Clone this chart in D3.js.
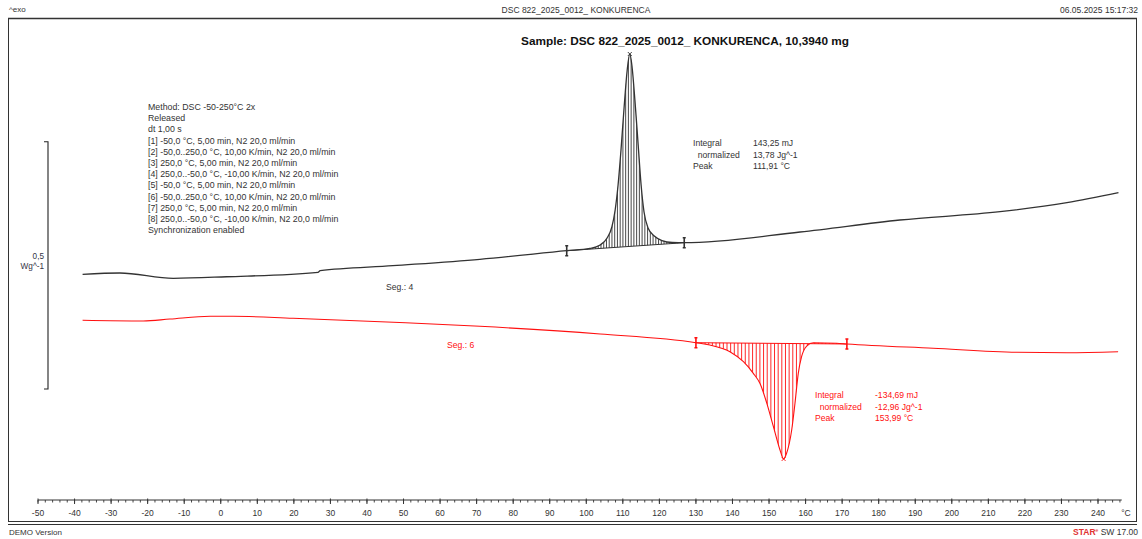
<!DOCTYPE html>
<html>
<head>
<meta charset="utf-8">
<script src="https://cdn.jsdelivr.net/npm/d3@7/dist/d3.min.js"></script>
<style>
  html, body { margin: 0; padding: 0; background: #fff; }
  svg { display: block; font-family: "Liberation Sans", Arial, sans-serif; }
</style>
</head>
<body>
<svg id="chart" width="1142" height="539"></svg>
<script>
// Segment 4 (cooling curve, black): temperature [°C] and heat flow [W/g, offset]
const seg4Temp = [-37.8, -27.6, -13.0, 1.6, 26.6, 27.2, 47.1, 70.9, 94.65, 101.0, 103.8, 105.7, 107.0, 107.9,
  108.7, 109.5, 110.3, 111.2, 111.91, 112.5, 113.3, 114.2, 115.0, 115.8, 116.9, 118.6, 120.7, 123.5, 126.8,
  158.5, 185.8, 213.2, 231.5, 245.6];
const seg4Flow = [0.2319, 0.2345, 0.2238, 0.2270, 0.2360, 0.2392, 0.2493, 0.2622, 0.2796, 0.2841, 0.2911, 0.3053,
  0.3275, 0.3619, 0.4125, 0.4832, 0.5641, 0.6450, 0.6773, 0.6531, 0.5843, 0.4933, 0.4125, 0.3579, 0.3255,
  0.3093, 0.3002, 0.2962, 0.2958, 0.3174, 0.3417, 0.3585, 0.3767, 0.3969];

// Segment 6 (second heating, red)
const seg6Temp = [-37.8, -21.2, -13.9, -2.9, 3.4, 19.8, 47.2, 70.9, 103.8, 130.0, 133.8, 139.3, 143.0, 145.7,
  147.5, 149.4, 151.2, 153.0, 153.99, 154.8, 156.2, 157.1, 158.0, 158.9, 160.3, 162.1, 168.5, 171.3,
  194.9, 217.8, 231.5, 245.5];
const seg6Flow = [0.1389, 0.1375, 0.1415, 0.1470, 0.1470, 0.1429, 0.1349, 0.1268, 0.1112, 0.0936, 0.0890,
  0.0754, 0.0552, 0.0317, 0.0115, -0.0289, -0.0762, -0.1233, -0.1415, -0.1300, -0.0829, -0.0289, 0.0317,
  0.0653, 0.0869, 0.0936, 0.0924, 0.0910, 0.0823, 0.0742, 0.0734, 0.0754];

// Integration limits [°C] and peak temperatures
const seg4Limits = [94.65, 126.8];
const seg6Limits = [130.0, 171.3];
const seg4Peak = 111.91;
const seg6Peak = 153.99;

// Axis ticks
const majorTicks = d3.range(-50, 241, 10);
const minorTicks = d3.range(-50, 247, 2);

// Texts
const methodLines = [
  "Method: DSC -50-250°C 2x",
  "Released",
  "dt 1,00 s",
  "[1] -50,0 °C, 5,00 min, N2 20,0 ml/min",
  "[2] -50,0..250,0 °C, 10,00 K/min, N2 20,0 ml/min",
  "[3] 250,0 °C, 5,00 min, N2 20,0 ml/min",
  "[4] 250,0..-50,0 °C, -10,00 K/min, N2 20,0 ml/min",
  "[5] -50,0 °C, 5,00 min, N2 20,0 ml/min",
  "[6] -50,0..250,0 °C, 10,00 K/min, N2 20,0 ml/min",
  "[7] 250,0 °C, 5,00 min, N2 20,0 ml/min",
  "[8] 250,0..-50,0 °C, -10,00 K/min, N2 20,0 ml/min",
  "Synchronization enabled"
];
const resultNames = ["Integral", "  normalized", "Peak"];
const seg4Results = ["143,25 mJ", "13,78 Jg^-1", "111,91 °C"];
const seg6Results = ["-134,69 mJ", "-12,96 Jg^-1", "153,99 °C"];

const svg = d3.select("#chart");
const x = d3.scaleLinear().domain([-50, 240]).range([38, 1098]);
const y = d3.scaleLinear().domain([0, 0.5]).range([389, 141.7]);

const BLACK = "#333333";
const RED = "#ff1010";

// Frame and header
const g = svg.append("g");
g.append("text").attr("x", 9).attr("y", 12).attr("font-size", 8).attr("fill", "#333").text("^exo");
g.append("text").attr("x", 576).attr("y", 13).attr("font-size", 8.5).attr("text-anchor", "middle").attr("fill", "#333")
  .text("DSC 822_2025_0012_ KONKURENCA");
g.append("text").attr("x", 1138).attr("y", 13).attr("font-size", 8.5).attr("text-anchor", "end").attr("fill", "#333")
  .text("06.05.2025 15:17:32");
g.append("rect").attr("x", 8.5).attr("y", 18.5).attr("width", 1128).attr("height", 503)
  .attr("fill", "none").attr("stroke", "#333").attr("stroke-width", 1);
g.append("line").attr("x1", 8).attr("x2", 1137).attr("y1", 18.5).attr("y2", 18.5).attr("stroke", "#333").attr("stroke-width", 1.6);
g.append("line").attr("x1", 8).attr("x2", 1137).attr("y1", 524.5).attr("y2", 524.5).attr("stroke", "#333").attr("stroke-width", 1.2);

// Footer
g.append("text").attr("x", 9).attr("y", 535).attr("font-size", 8).attr("fill", "#333").text("DEMO Version");
const star = g.append("text").attr("x", 1138).attr("y", 535).attr("font-size", 8.5).attr("text-anchor", "end").attr("fill", "#333");
star.append("tspan").attr("fill", "#e03030").attr("font-weight", "bold").text("STAR");
star.append("tspan").attr("fill", "#e03030").attr("font-size", 5).attr("dy", -3).text("e");
star.append("tspan").attr("dy", 3).text(" SW 17.00");

// Sample title
g.append("text").attr("x", 685).attr("y", 45).attr("font-size", 11.8).attr("font-weight", "bold")
  .attr("text-anchor", "middle").attr("fill", "#111")
  .text("Sample: DSC 822_2025_0012_ KONKURENCA, 10,3940 mg");

// Method block
const mt = g.append("text").attr("font-size", 8.8).attr("fill", "#333");
methodLines.forEach((s, i) => {
  mt.append("tspan").attr("x", 148).attr("y", 110 + i * 11.2).text(s);
});

// X axis
const axisY = 500;
const ax = svg.append("g");
ax.append("line").attr("x1", x(-50)).attr("x2", x(246.5)).attr("y1", axisY).attr("y2", axisY)
  .attr("stroke", "#333").attr("stroke-width", 1);
ax.selectAll(".minor").data(minorTicks).join("line")
  .attr("x1", d => x(d)).attr("x2", d => x(d)).attr("y1", axisY).attr("y2", axisY + 2.5)
  .attr("stroke", "#333").attr("stroke-width", 0.9);
ax.selectAll(".major").data(majorTicks).join("line")
  .attr("x1", d => x(d)).attr("x2", d => x(d)).attr("y1", axisY - 1.5).attr("y2", axisY + 4)
  .attr("stroke", "#333").attr("stroke-width", 1);
ax.selectAll(".lbl").data(majorTicks).join("text")
  .attr("x", d => x(d)).attr("y", axisY + 16).attr("text-anchor", "middle")
  .attr("font-size", 8.5).attr("fill", "#333").text(d => d);
ax.append("text").attr("x", 1126).attr("y", axisY + 16).attr("text-anchor", "middle")
  .attr("font-size", 8.5).attr("fill", "#333").text("°C");

// Y scale bracket (0,5 W/g)
const yb = svg.append("g");
yb.append("path")
  .attr("d", `M44,${y(0.5)}H48V${y(0)}H44`)
  .attr("fill", "none").attr("stroke", "#222").attr("stroke-width", 1.1);
yb.append("text").attr("x", 44).attr("y", 259).attr("text-anchor", "end").attr("font-size", 8.2)
  .attr("fill", "#334").text("0,5");
yb.append("text").attr("x", 44).attr("y", 269).attr("text-anchor", "end").attr("font-size", 8.2)
  .attr("fill", "#334").text("Wg^-1");

// Curve drawing helpers
function interp(temps, flows, t) {
  const i = d3.bisectRight(temps, t);
  if (i <= 0) return flows[0];
  if (i >= temps.length) return flows[flows.length - 1];
  const t0 = temps[i - 1], t1 = temps[i];
  const f = (t - t0) / (t1 - t0);
  return flows[i - 1] + f * (flows[i] - flows[i - 1]);
}

function drawSegment(id, temps, flows, limits, peak, color, step, width) {
  const data = temps.map((t, i) => [t, flows[i]]);
  const line = d3.line().x(d => x(d[0])).y(d => y(d[1])).curve(d3.curveMonotoneX);
  const bStart = [limits[0], interp(temps, flows, limits[0])];
  const bEnd = [limits[1], interp(temps, flows, limits[1])];
  const base = t => bStart[1] + (t - bStart[0]) / (bEnd[0] - bStart[0]) * (bEnd[1] - bStart[1]);

  // Clip region between baseline and curve
  const inside = data.filter(d => d[0] >= limits[0] && d[0] <= limits[1]);
  const area = d3.area().x(d => x(d[0])).y0(d => y(base(d[0]))).y1(d => y(d[1])).curve(d3.curveMonotoneX);
  svg.append("clipPath").attr("id", id).append("path").attr("d", area(inside));

  // Vertical hatching of the integrated area
  const hatch = d3.range(limits[0] + step / 2, limits[1], step);
  svg.append("g").attr("clip-path", `url(#${id})`)
    .selectAll("line").data(hatch).join("line")
    .attr("x1", d => x(d)).attr("x2", d => x(d)).attr("y1", 30).attr("y2", 480)
    .attr("stroke", color).attr("stroke-width", 0.9);

  // Baseline
  svg.append("line").attr("x1", x(bStart[0])).attr("y1", y(bStart[1]))
    .attr("x2", x(bEnd[0])).attr("y2", y(bEnd[1])).attr("stroke", color).attr("stroke-width", 1);

  // Curve
  svg.append("path").attr("d", line(data)).attr("fill", "none")
    .attr("stroke", color).attr("stroke-width", width).attr("stroke-linejoin", "round");

  // Integration limit markers
  [bStart, bEnd].forEach(p => {
    const px = x(p[0]), py = y(p[1]);
    svg.append("path").attr("d", `M${px},${py - 5}V${py + 5}M${px - 1.5},${py - 5}H${px + 1.5}M${px - 1.5},${py + 5}H${px + 1.5}`)
      .attr("stroke", color).attr("stroke-width", 1.6).attr("fill", "none");
  });

  // Peak cross
  const pkx = x(peak), pky = y(interp(temps, flows, peak));
  svg.append("path").attr("d", `M${pkx - 2},${pky - 2}L${pkx + 2},${pky + 2}M${pkx + 2},${pky - 2}L${pkx - 2},${pky + 2}`)
    .attr("stroke", color).attr("stroke-width", 0.9);
}

drawSegment("clip4", seg4Temp, seg4Flow, seg4Limits, seg4Peak, BLACK, 0.75, 1.3);
drawSegment("clip6", seg6Temp, seg6Flow, seg6Limits, seg6Peak, RED, 1.0, 1.1);

// Segment labels
svg.append("text").attr("x", 386).attr("y", 290).attr("font-size", 8.6).attr("fill", "#333").text("Seg.: 4");
svg.append("text").attr("x", 447).attr("y", 348).attr("font-size", 8.6).attr("fill", RED).text("Seg.: 6");

// Evaluation results
function results(x0, x1, y0, vals, color) {
  const t = svg.append("g").attr("font-size", 8.6).attr("fill", color);
  resultNames.forEach((n, i) => {
    t.append("text").attr("x", x0).attr("y", y0 + i * 11.6).attr("xml:space", "preserve").text(n);
    t.append("text").attr("x", x1).attr("y", y0 + i * 11.6).text(vals[i]);
  });
}
results(693, 753, 146, seg4Results, "#333");
results(815, 875, 398, seg6Results, RED);
</script>
</body>
</html>
